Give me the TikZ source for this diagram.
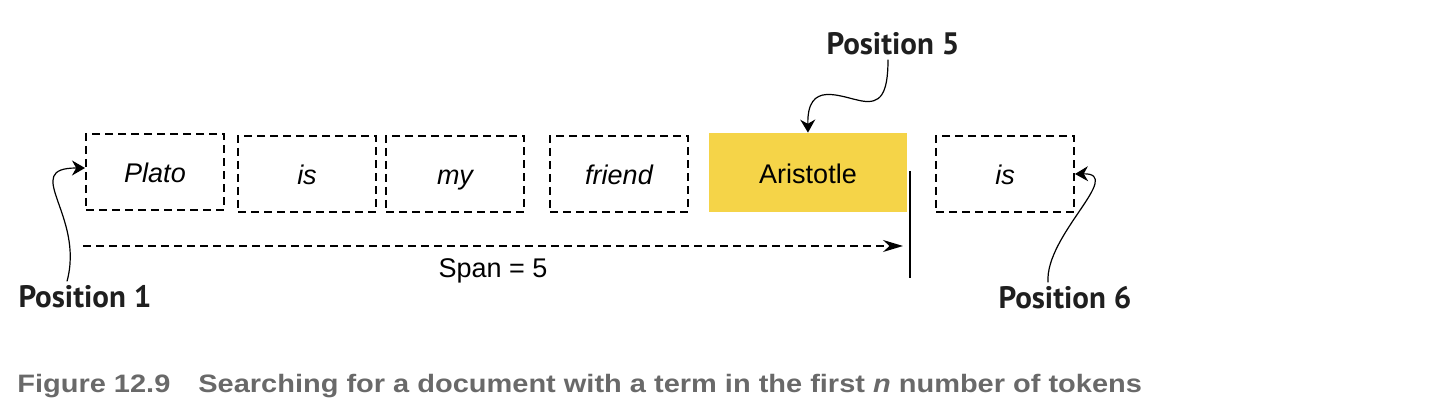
\documentclass[tikz,border=0pt]{standalone}
\usepackage{fontspec}
\setmainfont{Liberation Sans}
\newfontfamily\labelfont{PT Sans}
\newfontfamily\capfont[FakeStretch=1.15]{Liberation Sans}
\usepackage{tikz}
\usetikzlibrary{arrows.meta, positioning}
\definecolor{hityellow}{RGB}{245,212,72}
\definecolor{capgray}{RGB}{105,105,105}
\tikzset{
    token/.style={draw, line width=1pt, dash pattern=on 4pt off 2.5pt, minimum width=69pt, minimum height=38pt, text height=12pt, text depth=1pt, font=\fontsize{13.5}{16}\selectfont\itshape},
    hit/.style={fill=hityellow, minimum width=99pt, minimum height=39.5pt, text height=12pt, text depth=1pt, font=\fontsize{13.5}{16}\selectfont},
    poslabel/.style={inner sep=2pt, text=black!88, font=\fontsize{15.5}{18}\selectfont\labelfont\bfseries},
    pointer/.style={-{Stealth[length=6.5pt, width=7.5pt]}, line width=0.6pt},
    spanarrow/.style={-{Stealth[length=10pt, width=6pt]}, line width=0.8pt, dash pattern=on 4pt off 2.5pt}
}
\begin{document}
\begin{tikzpicture}[x=0.5pt, y=-0.5pt]
    \useasboundingbox (0,0) rectangle (1442,416);
    % Tokens
    \node[token] (plato) at (155,172) {Plato};
    \node[token] (isa) at (307,174) {is};
    \node[token] (my) at (455,174) {my};
    \node[token] (friend) at (619,174) {friend};
    \node[hit] (aristotle) at (808,172.5) {Aristotle};
    \node[token] (isb) at (1005,174) {is};
    % Grenze der Spanne
    \coordinate (cutTop) at (910,171);
    \coordinate (cutBot) at (910,278);
    \draw[line width=1pt] (cutTop) -- (cutBot);
    \coordinate (spanL) at (83,246);
    \draw[spanarrow, shorten >=3.5pt] (spanL) -- (spanL -| cutTop);
    \node (span) at (493,271) {\fontsize{13.5}{16}\selectfont Span = 5};
    % Positionen
    \node[poslabel] (pos1) at (85,297) {Position 1};
    \node[poslabel] (pos5) at (893,44) {Position 5};
    \node[poslabel] (pos6) at (1065,298) {Position 6};
    \draw[pointer] ([xshift=-9pt]pos1.north) .. controls (85,215) and (20,168) .. ([yshift=2pt]plato.west);
    \draw[pointer] ([xshift=-2.5pt]pos5.south) .. controls (888,95) and (880,104) .. (862,101) .. controls (840,97) and (807,80) .. (aristotle.north);
    \draw[pointer] ([xshift=-8.5pt]pos6.north) .. controls (1045,235) and (1125,173) .. (isb.east);
    % Bildunterschrift
    \node[anchor=base west, inner sep=0, text=capgray, font=\fontsize{12.6}{15}\selectfont\capfont\bfseries] (caption) at (17,393)
        {Figure 12.9\hspace{14pt}Searching for a document with a term in the first \textit{n} number of tokens};
\end{tikzpicture}
\end{document}
